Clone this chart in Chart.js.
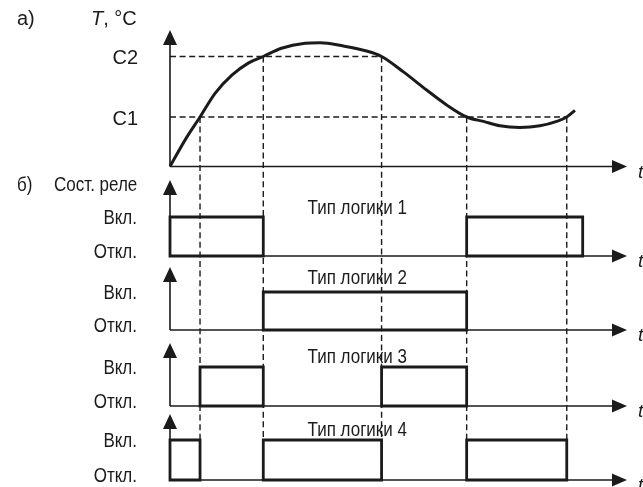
<!DOCTYPE html>
<html><head><meta charset="utf-8">
<script src="https://cdn.jsdelivr.net/npm/chart.js@4/dist/chart.umd.min.js"></script>
<style>html,body{margin:0;padding:0;background:#fff;overflow:hidden}canvas{display:block}</style>
</head><body>
<canvas id="c" width="643" height="487"></canvas>
<script>
// ---------- data ----------
const timeSamples = [0,3.3,6.6,9.9,13.6,17.2,20.5,24.5,29.7,33.0,38.1,43.2,46.5,51.3,56.4,60.8,65.2,68.9,72.5,76.9,81.3,85.0,87.2,89.0];
const temperature = [0,24,45,66.5,83,94,100,107.5,112,112.5,109.5,105,100,86,69.5,56,45,41,37,35.5,37,41,45,51];
const setpointNames = ['C1','C2'];
const setpointValues = [45,100];
const crossTimes = [6.6,20.5,46.5,65.2,87.2];
const crossLevels = [45,100,100,45,45];
const logicNames = ['Тип логики 1','Тип логики 2','Тип логики 3','Тип логики 4'];
const logic1On = [[0,20.5],[65.2,90.7]];
const logic2On = [[20.5,65.2]];
const logic3On = [[6.6,20.5],[46.5,65.2]];
const logic4On = [[0,6.6],[20.5,46.5],[65.2,87.2]];
const stateLabels = ['Откл.','Вкл.'];
const stateValues = [0,1];
const axisTitleTop = 'T';
const axisTitleTopUnit = ', °C';
const axisTitleBottom = 'Сост. реле';
const panelTags = ['а)','б)'];
const timeLabel = 't';

// ---------- layout (pixels) ----------
const W = 643, H = 487;
const xOrigin = 170, xPerUnit = 4.55, arrowX = 627;
const tOrigin = 166.5, tPerUnit = 1.1, tTip = 30;
const panels = [
  {off:256, on:217, tip:180, label:214},
  {off:330, on:292, tip:267, label:284},
  {off:406, on:367, tip:343, label:363},
  {off:480, on:440, tip:414, label:436}
];
const INK = '#1b1b1b';
const regular = '"Liberation Sans",Arial,sans-serif';
const NARROW = 0.85;

const logicOn = [logic1On, logic2On, logic3On, logic4On];

function rectPoints(intervals){
  const pts = [];
  intervals.forEach(([s,e])=>{
    pts.push({x:s,y:stateValues[0]},{x:s,y:stateValues[1]},{x:e,y:stateValues[1]},{x:e,y:stateValues[0]},{x:s,y:stateValues[0]});
    pts.push({x:e,y:null});
  });
  return pts;
}

const scales = {
  x: {type:'linear', display:false, min:-xOrigin/xPerUnit, max:(W-xOrigin)/xPerUnit},
  yT: {type:'linear', display:false, min:(tOrigin-H)/tPerUnit, max:tOrigin/tPerUnit}
};
panels.forEach((p,i)=>{
  const r = p.off - p.on;
  scales['y'+(i+1)] = {type:'linear', display:false, min:(p.off-H)/r, max:p.off/r};
});

const datasets = [{
  data: timeSamples.map((t,i)=>({x:t,y:temperature[i]})),
  yAxisID:'yT', borderColor:INK, borderWidth:3, pointRadius:0,
  cubicInterpolationMode:'monotone', fill:false
}];
logicOn.forEach((iv,i)=>{
  datasets.push({
    data: rectPoints(iv), yAxisID:'y'+(i+1), borderColor:INK, borderWidth:2.8,
    pointRadius:0, tension:0, spanGaps:false, borderJoinStyle:'miter', borderCapStyle:'square', fill:false
  });
});

function arrowRight(ctx, x, y){
  ctx.beginPath(); ctx.moveTo(x, y); ctx.lineTo(x-15, y-6.5); ctx.lineTo(x-15, y+6.5); ctx.closePath(); ctx.fill();
}
function arrowUp(ctx, x, y){
  ctx.beginPath(); ctx.moveTo(x, y); ctx.lineTo(x-7, y+15); ctx.lineTo(x+7, y+15); ctx.closePath(); ctx.fill();
}
function narrowText(ctx, text, x, y){
  ctx.save(); ctx.translate(x, y); ctx.scale(NARROW, 1); ctx.fillText(text, 0, 0); ctx.restore();
}

const decor = {
  id:'decor',
  beforeDatasetsDraw(chart){
    const ctx = chart.ctx, xs = chart.scales.x, yT = chart.scales.yT;
    const x0 = xs.getPixelForValue(0);
    ctx.save();
    ctx.strokeStyle = INK; ctx.lineWidth = 1.4; ctx.setLineDash([6,3.6]);
    setpointValues.forEach(v=>{
      let last = 0;
      crossTimes.forEach((t,i)=>{ if(crossLevels[i]===v && t>last) last=t; });
      const y = yT.getPixelForValue(v);
      ctx.beginPath(); ctx.moveTo(x0, y); ctx.lineTo(xs.getPixelForValue(last), y); ctx.stroke();
    });
    const yBottom = panels[panels.length-1].off;
    crossTimes.forEach((t,i)=>{
      const x = xs.getPixelForValue(t);
      ctx.beginPath(); ctx.moveTo(x, yT.getPixelForValue(crossLevels[i])); ctx.lineTo(x, yBottom); ctx.stroke();
    });
    ctx.setLineDash([]);
    ctx.lineWidth = 1.6;
    const yO = yT.getPixelForValue(0);
    ctx.beginPath(); ctx.moveTo(x0, yO); ctx.lineTo(x0, tTip+10); ctx.moveTo(x0, yO); ctx.lineTo(arrowX-10, yO); ctx.stroke();
    panels.forEach((p,i)=>{
      const ys = chart.scales['y'+(i+1)];
      const yb = ys.getPixelForValue(stateValues[0]);
      ctx.beginPath(); ctx.moveTo(x0, yb); ctx.lineTo(x0, p.tip+10); ctx.moveTo(x0, yb); ctx.lineTo(arrowX-10, yb); ctx.stroke();
    });
    ctx.restore();
  },
  afterDatasetsDraw(chart){
    const ctx = chart.ctx, xs = chart.scales.x, yT = chart.scales.yT;
    const x0 = xs.getPixelForValue(0);
    ctx.save();
    ctx.fillStyle = INK;
    const yO = yT.getPixelForValue(0);
    arrowUp(ctx, x0, tTip); arrowRight(ctx, arrowX, yO);
    panels.forEach((p,i)=>{
      const yb = chart.scales['y'+(i+1)].getPixelForValue(stateValues[0]);
      arrowUp(ctx, x0, p.tip); arrowRight(ctx, arrowX, yb);
    });
    // t labels
    ctx.font = 'italic 19px ' + regular; ctx.textAlign='left'; ctx.textBaseline='alphabetic';
    ctx.fillText(timeLabel, 638, yO+11);
    panels.forEach((p,i)=>{
      const yb = chart.scales['y'+(i+1)].getPixelForValue(stateValues[0]);
      ctx.fillText(timeLabel, 638, yb+11);
    });
    // top panel texts
    ctx.font = '20px ' + regular;
    ctx.fillText(panelTags[0], 17, 24.5);
    ctx.font = 'italic 20px ' + regular;
    ctx.fillText(axisTitleTop, 91, 25);
    const tw = ctx.measureText(axisTitleTop).width;
    ctx.font = '20px ' + regular;
    ctx.fillText(axisTitleTopUnit, 91+tw, 25);
    ctx.textAlign='right'; ctx.textBaseline='middle';
    setpointNames.forEach((n,i)=>{
      ctx.fillText(n, 138, yT.getPixelForValue(setpointValues[i])+2);
    });
    // bottom panel texts (condensed)
    ctx.textAlign='left'; ctx.textBaseline='alphabetic';
    ctx.font = '20px ' + regular;
    narrowText(ctx, panelTags[1], 17, 191);
    narrowText(ctx, axisTitleBottom, 54, 191);
    ctx.textAlign='right'; ctx.textBaseline='middle';
    panels.forEach((p,i)=>{
      const ys = chart.scales['y'+(i+1)];
      narrowText(ctx, stateLabels[1], 137, ys.getPixelForValue(stateValues[1])+1);
      narrowText(ctx, stateLabels[0], 137, ys.getPixelForValue(stateValues[0])-4);
    });
    ctx.textAlign='left'; ctx.textBaseline='alphabetic';
    panels.forEach((p,i)=>{
      narrowText(ctx, logicNames[i], 307.5, p.label);
    });
    ctx.restore();
  }
};

new Chart(document.getElementById('c'), {
  type:'line',
  data:{datasets},
  options:{
    responsive:false, animation:false, devicePixelRatio:1,
    layout:{padding:0},
    plugins:{legend:{display:false}, tooltip:{enabled:false}, title:{display:false}},
    events:[],
    scales
  },
  plugins:[decor]
});
</script>
</body></html>
